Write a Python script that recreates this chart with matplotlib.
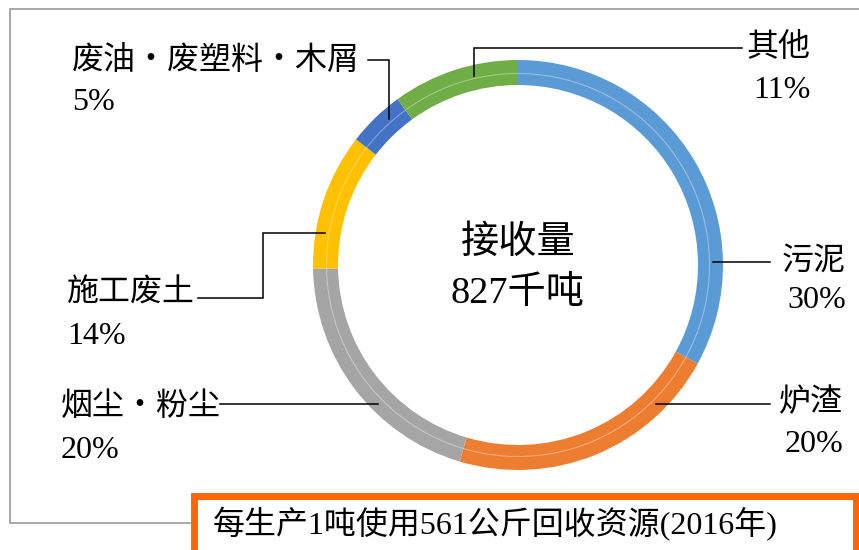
import matplotlib
matplotlib.use("Agg")
import matplotlib.pyplot as plt
from matplotlib.patches import Rectangle, Circle

# ---- data ----
categories = ["污泥", "炉渣", "烟尘・粉尘", "施工废土", "废油・废塑料・木屑", "其他"]
pct_labels = ["30%", "20%", "20%", "14%", "5%", "11%"]
# arc sizes as drawn in the picture
arc_values = [33.0, 21.6, 20.1, 10.8, 4.5, 10.0]
colors = ["#5B9BD5", "#ED7D31", "#A5A5A5", "#FFC000", "#4472C4", "#70AD47"]
center_title = "接收量"
center_value = "827千吨"
note_text = "每生产1吨使用561公斤回收资源(2016年)"

W, H = 859, 550
fam = ["Liberation Serif", "Noto Sans CJK SC", "DejaVu Sans"]

fig = plt.figure(figsize=(W / 100, H / 100), dpi=100)
ax = fig.add_axes([0, 0, 1, 1])

def Y(y):
    return H - y

cx, cy, R, ring = 518, 265, 205, 25
wedges, _ = ax.pie(arc_values, colors=colors, startangle=90, counterclock=False,
                   radius=R, center=(cx, Y(cy)),
                   wedgeprops=dict(width=ring, linewidth=0))
ax.add_patch(Circle((cx, Y(cy)), R - ring / 2 - 1, fill=False, ec="white",
                    alpha=0.35, lw=0.8))
ax.set_xlim(0, W)
ax.set_ylim(0, H)
ax.set_aspect("auto")
ax.axis("off")

# outer gray frame
ax.plot([190, 10, 10, W + 5], [Y(523), Y(523), Y(9), Y(9)], color="#9a9a9a", lw=1.2,
        solid_joinstyle="miter")

# leader lines
lk = dict(color="black", lw=1.1, solid_joinstyle="miter")
ax.plot([474, 474, 742], [Y(76), Y(48), Y(48)], **lk)          # 其他
ax.plot([713, 770], [Y(262), Y(262)], **lk)                     # 污泥
ax.plot([656, 770], [Y(404), Y(404)], **lk)                     # 炉渣
ax.plot([220, 378], [Y(404), Y(404)], **lk)                     # 烟尘
ax.plot([198, 263, 263, 325], [Y(298), Y(298), Y(233), Y(233)], **lk)  # 施工废土
ax.plot([368, 389, 389], [Y(60), Y(60), Y(119)], **lk)          # 废油

fs = 23
# labels: (name_xy, pct_xy, ha)
label_pos = [
    ((846, 262), (846, 301), "right"),
    ((843, 403), (843, 444), "right"),
    ((61, 407), (61, 450), "left"),
    ((67, 294), (67, 336), "left"),
    ((72, 61), (72, 103), "left"),
    ((811, 48), (811, 90), "right"),
]
for cat, pct, (nxy, pxy, ha) in zip(categories, pct_labels, label_pos):
    ax.text(nxy[0], Y(nxy[1]), cat, ha=ha, va="center", fontsize=fs, family=fam)
    ax.text(pxy[0], Y(pxy[1]), pct, ha=ha, va="center", fontsize=fs, family=fam)

ax.text(cx, Y(243), center_title, ha="center", va="center", fontsize=27.5, family=fam)
ax.text(cx, Y(293), center_value, ha="center", va="center", fontsize=27.5, family=fam)

# orange note box
ax.add_patch(Rectangle((193.5, Y(560)), 662, 64, fill=True, fc="white",
                       ec="#FF6600", lw=5.0, zorder=3))
ax.text(213, Y(524), note_text, ha="left", va="center", fontsize=23, family=fam,
        zorder=4)

fig.savefig("out.png", dpi=100)
